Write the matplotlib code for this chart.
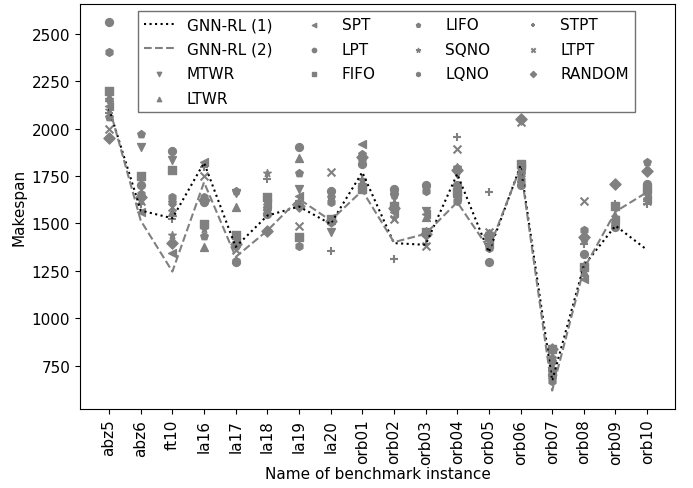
import matplotlib
matplotlib.use("Agg")
import matplotlib.pyplot as plt

instances = ["abz5", "abz6", "ft10", "la16", "la17", "la18", "la19", "la20",
             "orb01", "orb02", "orb03", "orb04", "orb05", "orb06", "orb07",
             "orb08", "orb09", "orb10"]

gnn_rl_1 = [2105, 1568, 1527, 1820, 1376, 1541, 1589, 1497, 1770, 1396,
            1387, 1761, 1348, 1805, 670, 1277, 1488, 1360]
gnn_rl_2 = [2115, 1515, 1246, 1717, 1323, 1462, 1629, 1515, 1673, 1401,
            1445, 1612, 1366, 1796, 618, 1260, 1562, 1665]

mtwr   = [2140, 1902, 1832, 1480, 1661, 1610, 1682, 1457, 1690, 1640, 1568, 1761, 1410, 1779, 760, 1260, 1580, 1656]
ltwr   = [2165, 1660, 1560, 1374, 1585, 1594, 1844, 1520, 1830, 1610, 1533, 1690, 1400, 1790, 740, 1243, 1540, 1640]
spt    = [2120, 1561, 1343, 1823, 1400, 1600, 1642, 1530, 1919, 1560, 1550, 1640, 1392, 1805, 720, 1207, 1520, 1629]
lpt    = [2560, 1700, 1881, 1612, 1295, 1550, 1902, 1673, 1814, 1682, 1700, 1700, 1295, 1700, 700, 1336, 1480, 1709]
fifo   = [2200, 1752, 1782, 1497, 1441, 1640, 1427, 1524, 1682, 1590, 1453, 1665, 1427, 1814, 835, 1269, 1591, 1682]
lifo   = [2060, 1969, 1612, 1433, 1673, 1625, 1767, 1638, 1867, 1650, 1690, 1790, 1380, 1760, 790, 1420, 1500, 1823]
sqno   = [2100, 1630, 1441, 1471, 1380, 1767, 1600, 1510, 1730, 1530, 1460, 1795, 1450, 1744, 680, 1280, 1533, 1650]
lqno   = [2405, 1656, 1638, 1638, 1300, 1580, 1380, 1612, 1840, 1665, 1673, 1620, 1370, 1730, 670, 1467, 1490, 1690]
stpt   = [2080, 1600, 1524, 1800, 1370, 1735, 1620, 1357, 1735, 1313, 1390, 1955, 1665, 1720, 700, 1392, 1600, 1603]
ltpt   = [2000, 1620, 1585, 1752, 1360, 1570, 1485, 1771, 1720, 1524, 1383, 1890, 1457, 2034, 750, 1616, 1510, 1620]
random = [1950, 1640, 1397, 1625, 1392, 1462, 1591, 1515, 1850, 1580, 1445, 1780, 1440, 2051, 840, 1427, 1709, 1774]

rules = [("MTWR", mtwr, "v"), ("LTWR", ltwr, "^"), ("SPT", spt, "<"),
         ("LPT", lpt, "o"), ("FIFO", fifo, "s"), ("LIFO", lifo, "p"),
         ("SQNO", sqno, "*"), ("LQNO", lqno, "h"), ("STPT", stpt, "+"),
         ("LTPT", ltpt, "x"), ("RANDOM", random, "D")]

fig = plt.figure(figsize=(6.93, 4.89), dpi=100)
ax = fig.add_axes([0.1154, 0.1616, 0.8586, 0.8284])

x = list(range(len(instances)))
ax.plot(x, gnn_rl_1, linestyle=":", color="black", lw=1.5, label="GNN-RL (1)")
ax.plot(x, gnn_rl_2, linestyle="--", color="gray", lw=1.5, label="GNN-RL (2)")
for name, vals, m in rules:
    ax.scatter(x, vals, marker=m, color="gray", s=32, label=name)

ax.set_xticks(x)
ax.set_xticklabels(instances, rotation=90, fontsize=11)
ax.tick_params(axis="y", labelsize=11)
ax.set_yticks([750, 1000, 1250, 1500, 1750, 2000, 2250, 2500])
ax.set_ylim(521, 2658)
ax.set_xlim(-0.92, 17.88)
ax.set_xlabel("Name of benchmark instance", fontsize=11, labelpad=2)
ax.set_ylabel("Makespan", fontsize=11)

leg = ax.legend(ncol=4, loc="upper center", bbox_to_anchor=(0.515, 0.99),
                fontsize=11, markerscale=0.55, fancybox=False,
                edgecolor="0.3", borderaxespad=0.2, labelspacing=0.63,
                columnspacing=1.75)
leg.get_frame().set_linewidth(1.0)

fig.savefig("out.png", dpi=100)
